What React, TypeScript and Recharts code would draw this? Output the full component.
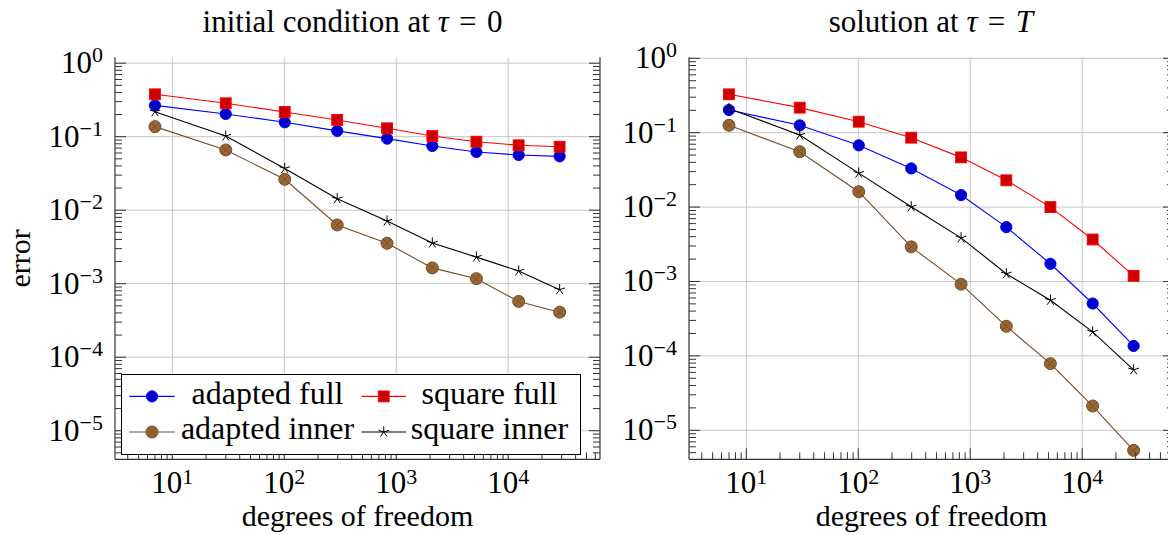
import React from 'react';
import { LineChart, Line, XAxis, YAxis, CartesianGrid, Legend } from 'recharts';

// degrees of freedom (same meshes in both panels)
const dof = [7, 30, 101, 297, 828, 2100, 5200, 12400, 28800];

// initial condition at tau = 0
const adaptedFullInit = [0.267, 0.204, 0.157, 0.12, 0.094, 0.0747, 0.062, 0.0564, 0.054];
const squareFullInit = [0.377, 0.285, 0.217, 0.169, 0.13, 0.102, 0.0855, 0.0764, 0.073];
const adaptedInnerInit = [0.137, 0.066, 0.0263, 0.0063, 0.00355, 0.00164, 0.00117, 0.000574, 0.00041];
const squareInnerInit = [0.219, 0.102, 0.037, 0.0143, 0.00713, 0.00358, 0.0023, 0.00149, 0.00083];

// solution at tau = T
const adaptedFullEnd = [0.202, 0.1256, 0.0676, 0.0331, 0.0145, 0.00538, 0.00173, 0.000506, 0.000136];
const squareFullEnd = [0.328, 0.217, 0.1405, 0.0857, 0.0466, 0.0229, 0.01, 0.00367, 0.00119];
const adaptedInnerEnd = [0.1256, 0.0555, 0.0161, 0.00292, 0.00092, 0.00025, 0.0000787, 0.0000212, 0.00000537];
const squareInnerEnd = [0.212, 0.093, 0.0286, 0.0101, 0.00386, 0.00127, 0.00056, 0.00021, 0.000065];

const xMajor = [10, 100, 1000, 10000];
const yMajor = [1, 1e-1, 1e-2, 1e-3, 1e-4, 1e-5];

const FONT = "'Liberation Serif', 'Times New Roman', serif";
const AXIS = '#333';
const GRID = '#c6c6c6';
const txt = { fontFamily: FONT };

const series = [
  { key: 'adaptedFull', name: 'adapted full', color: '#0000ff', fill: '#0000cc', mark: 'circle' },
  { key: 'squareFull', name: 'square full', color: '#ff0000', fill: '#cc0000', mark: 'square' },
  { key: 'adaptedInner', name: 'adapted inner', color: '#734d26', fill: '#996633', mark: 'otimes' },
  { key: 'squareInner', name: 'square inner', color: '#000000', fill: 'none', mark: 'star' },
];

// plot box (same size for both panels)
const PLOT_LEFT = 115;
const PLOT_W = 485;
const PLOT_TOP = 57.3;
const PLOT_BOTTOM = 459.3;
const RIGHT_W = 8;
const CHART_H = 535;
const RIGHT_PANEL_X = 689.3 - PLOT_LEFT;

const xDomain = [Math.pow(10, 0.488), Math.pow(10, 4.82)];

function logTicks(lo: number, hi: number) {
  const out: number[] = [];
  for (let e = Math.floor(Math.log10(lo)); e <= Math.ceil(Math.log10(hi)); e++) {
    for (let m = 1; m <= 9; m++) {
      const v = m * Math.pow(10, e);
      if (v >= lo && v <= hi) out.push(v);
    }
  }
  return out;
}

function expOf(v: number) {
  const e = Math.round(Math.log10(v));
  return { e, major: Math.abs(v / Math.pow(10, e) - 1) < 1e-6 };
}

const expText = (e: number) => (e < 0 ? '\u2212' + -e : String(e));

function Mark({ kind, cx, cy, color, fill }: any) {
  if (cx == null || cy == null) return null;
  if (kind === 'circle') {
    return <circle cx={cx} cy={cy} r={5.6} fill={fill} stroke={color} strokeWidth={1} />;
  }
  if (kind === 'square') {
    return <rect x={cx - 5.4} y={cy - 5.4} width={10.8} height={10.8} fill={fill} stroke={color} strokeWidth={1} />;
  }
  if (kind === 'otimes') {
    const d = 6 * Math.SQRT1_2;
    return (
      <g>
        <circle cx={cx} cy={cy} r={6} fill={fill} stroke={color} strokeWidth={1} />
        <line x1={cx - d} y1={cy - d} x2={cx + d} y2={cy + d} stroke={color} strokeWidth={0.9} />
        <line x1={cx - d} y1={cy + d} x2={cx + d} y2={cy - d} stroke={color} strokeWidth={0.9} />
      </g>
    );
  }
  const arms = [0, 1, 2, 3, 4].map((k) => {
    const a = (-90 + k * 72) * (Math.PI / 180);
    return (
      <line key={k} x1={cx} y1={cy} x2={cx + 5.6 * Math.cos(a)} y2={cy + 5.6 * Math.sin(a)} stroke={color} strokeWidth={1} />
    );
  });
  return <g>{arms}</g>;
}

function XTick(props: any) {
  const { x, y, payload, side } = props;
  const { e, major } = expOf(payload.value);
  const len = major ? 11 : 7;
  const y2 = side === 'top' ? y + len : y - len;
  return (
    <g>
      <line x1={x} x2={x} y1={y} y2={y2} stroke={AXIS} strokeWidth={1} />
      {side === 'bottom' && major && (
        <text x={x} y={y + 34} textAnchor="middle" style={txt} fontSize={31} fill="#000">
          10<tspan dy={-9} fontSize={22}>{expText(e)}</tspan>
        </text>
      )}
    </g>
  );
}

function YTick(props: any) {
  const { x, y, payload, side } = props;
  const { e, major } = expOf(payload.value);
  const len = major ? 11 : 7;
  const x2 = side === 'left' ? x + len : x - len;
  return (
    <g>
      <line x1={x} x2={x2} y1={y} y2={y} stroke={AXIS} strokeWidth={1} />
      {side === 'left' && major && (
        <text x={x - 12} y={y + 10} textAnchor="end" style={txt} fontSize={31} fill="#000">
          10<tspan dy={-11} fontSize={22}>{expText(e)}</tspan>
        </text>
      )}
    </g>
  );
}

function LegendBox() {
  const cols = [
    { x0: 8.5, x1: 53.5, tc: 146.5 },
    { x0: 240.5, x1: 285, tc: 368.5 },
  ];
  const rows = [
    { c: 22.4, b: 30 },
    { c: 58, b: 65 },
  ];
  return (
    <svg width={460} height={81} style={{ display: 'block' }}>
      <rect x={0.5} y={0.5} width={459} height={80} fill="#fff" stroke="#000" strokeWidth={1} />
      {series.map((s, i) => {
        const col = cols[i % 2];
        const row = rows[Math.floor(i / 2)];
        return (
          <g key={s.key}>
            <line x1={col.x0} x2={col.x1} y1={row.c} y2={row.c} stroke={s.color} strokeWidth={1.1} />
            <Mark kind={s.mark} cx={(col.x0 + col.x1) / 2} cy={row.c} color={s.color} fill={s.fill} />
            <text x={col.tc} y={row.b} textAnchor="middle" style={txt} fontSize={32} fill="#000">
              {s.name}
            </text>
          </g>
        );
      })}
    </svg>
  );
}

function Panel({ data, yDomain, showLegend, showYLabel }: any) {
  const xTicks = logTicks(xDomain[0], xDomain[1]);
  const yTicks = logTicks(yDomain[0], yDomain[1]);
  const cx = PLOT_LEFT + PLOT_W / 2;
  return (
    <LineChart
      width={PLOT_LEFT + PLOT_W + RIGHT_W}
      height={CHART_H}
      data={data}
      margin={{ top: PLOT_TOP, right: 0, bottom: 0, left: 0 }}
    >
      <CartesianGrid horizontalValues={yMajor} verticalValues={xMajor} stroke={GRID} strokeWidth={1} />
      <XAxis
        dataKey="dof"
        type="number"
        scale="log"
        domain={xDomain}
        allowDataOverflow
        ticks={xTicks}
        interval={0}
        tickSize={0}
        tickMargin={0}
        tickLine={false}
        height={CHART_H - PLOT_BOTTOM}
        axisLine={{ stroke: AXIS, strokeWidth: 1.2 }}
        tick={<XTick side="bottom" />}
        label={{
          content: () => (
            <text x={cx} y={526} textAnchor="middle" style={txt} fontSize={30} fill="#000">
              degrees of freedom
            </text>
          ),
        }}
      />
      <XAxis
        xAxisId="top"
        orientation="top"
        type="number"
        scale="log"
        domain={xDomain}
        allowDataOverflow
        ticks={xTicks}
        interval={0}
        tickSize={0}
        tickMargin={0}
        tickLine={false}
        height={0}
        axisLine={{ stroke: AXIS, strokeWidth: 1.2 }}
        tick={<XTick side="top" />}
      />
      <YAxis
        type="number"
        scale="log"
        domain={yDomain}
        allowDataOverflow
        ticks={yTicks}
        interval={0}
        tickSize={0}
        tickMargin={0}
        tickLine={false}
        width={PLOT_LEFT}
        axisLine={{ stroke: AXIS, strokeWidth: 1.2 }}
        tick={<YTick side="left" />}
        label={
          showYLabel
            ? {
                content: () => {
                  const cy = (PLOT_TOP + PLOT_BOTTOM) / 2;
                  return (
                    <text
                      x={30}
                      y={cy}
                      transform={`rotate(-90, 30, ${cy})`}
                      textAnchor="middle"
                      style={txt}
                      fontSize={30}
                      fill="#000"
                    >
                      error
                    </text>
                  );
                },
              }
            : undefined
        }
      />
      <YAxis
        yAxisId="r"
        orientation="right"
        type="number"
        scale="log"
        domain={yDomain}
        allowDataOverflow
        ticks={yTicks}
        interval={0}
        tickSize={0}
        tickMargin={0}
        tickLine={false}
        width={RIGHT_W}
        axisLine={{ stroke: AXIS, strokeWidth: 1.2 }}
        tick={<YTick side="right" />}
      />
      {series.map((s) => (
        <Line
          key={s.key}
          dataKey={s.key}
          name={s.name}
          type="linear"
          stroke={s.color}
          strokeWidth={1.1}
          isAnimationActive={false}
          activeDot={false}
          dot={(p: any) => (
            <Mark key={`${s.key}-${p.index}`} kind={s.mark} cx={p.cx} cy={p.cy} color={s.color} fill={s.fill} />
          )}
        />
      ))}
      {showLegend && (
        <Legend
          layout="horizontal"
          verticalAlign="middle"
          align="center"
          wrapperStyle={{ left: 120.5, top: 374.3, width: 460, height: 81 }}
          content={<LegendBox />}
        />
      )}
    </LineChart>
  );
}

const rows = (a: number[], b: number[], c: number[], d: number[]) =>
  dof.map((x, i) => ({ dof: x, adaptedFull: a[i], squareFull: b[i], adaptedInner: c[i], squareInner: d[i] }));

const initData = rows(adaptedFullInit, squareFullInit, adaptedInnerInit, squareInnerInit);
const endData = rows(adaptedFullEnd, squareFullEnd, adaptedInnerEnd, squareInnerEnd);

export default function App() {
  const cx = PLOT_LEFT + PLOT_W / 2;
  return (
    <div
      style={{
        position: 'fixed',
        left: 0,
        top: 0,
        width: 1168,
        height: 535,
        overflow: 'hidden',
        background: '#fff',
        fontFamily: FONT,
      }}
    >
      <svg width={1168} height={50} style={{ position: 'absolute', left: 0, top: 0 }}>
        <text x={cx - 5} y={32} textAnchor="middle" style={txt} fontSize={31} fill="#000">
          initial condition at <tspan fontStyle="italic">τ</tspan>{'\u2004=\u20040'}
        </text>
        <text x={RIGHT_PANEL_X + cx - 1} y={32} textAnchor="middle" style={txt} fontSize={31} fill="#000">
          solution at <tspan fontStyle="italic">τ</tspan>{'\u2004=\u2004'}<tspan fontStyle="italic">T</tspan>
        </text>
      </svg>
      <div style={{ position: 'absolute', left: 0, top: 0 }}>
        <Panel data={initData} yDomain={[Math.pow(10, -5.389), Math.pow(10, 0.08)]} showLegend showYLabel />
      </div>
      <div style={{ position: 'absolute', left: RIGHT_PANEL_X, top: 0 }}>
        <Panel data={endData} yDomain={[Math.pow(10, -5.39), Math.pow(10, 0.0134)]} />
      </div>
    </div>
  );
}
